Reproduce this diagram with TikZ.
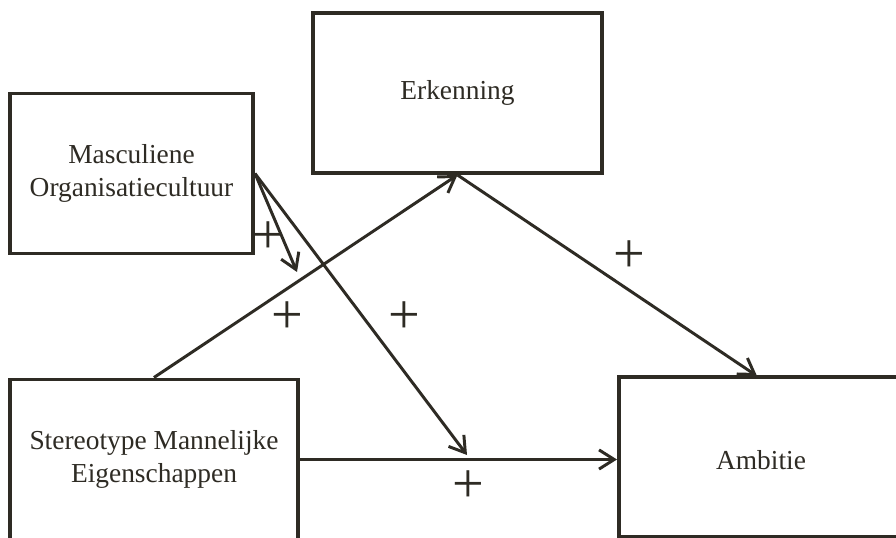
\documentclass[tikz,border=0pt]{standalone}
\usepackage{fontspec}
\setmainfont{Liberation Serif}
\usetikzlibrary{arrows.meta,positioning}
\definecolor{ink}{RGB}{46,43,36}
\tikzset{box/.style={draw=ink, line width=2.8pt, minimum width=7.2cm, minimum height=4cm,
    align=center, font=\fontsize{19.5}{23}\selectfont, text=ink},
  path/.style={draw=ink, line width=2.1pt, -{Straight Barb[length=3.8mm,width=4.8mm]}},
  plus/.style={text=ink, inner sep=0pt, font=\fontsize{40}{40}\selectfont}}

\begin{document}
\begin{tikzpicture}[x=0.025cm, y=-0.025cm]
\useasboundingbox (0,0) rectangle (896,538);
\clip (0,0) rectangle (896,538);
\fill[white] (0,0) rectangle (896,538);

% the four constructs
\node[box, minimum width=6.075cm] (masc) at (131.5,173.5) {Masculiene\\Organisatiecultuur};
\node[box] (erk) at (457.5,93) {Erkenning};
\node[box] (stereo) at (154,459.5) {Stereotype Mannelijke\\Eigenschappen};
\node[box, minimum width=10cm, anchor=west] (amb) at (617,457) {};
\node[font=\fontsize{19.5}{23}\selectfont, text=ink] (ambtext) at (761,460) {Ambitie};

% ends of the moderation arrows
\coordinate (modA) at (297,272);
\coordinate (modB) at (467,455);

\draw[path] (stereo.north) -- (erk.south);
\draw[path] (erk.south) -- (757,376);
\draw[path] (stereo.east) -- (stereo.east -| amb.west);
\draw[path] (masc.east) -- (modA);
\draw[path] (masc.east) -- (modB);

% signs
\node[plus] (p1) at (268,238) {+};
\node[plus] (p2) at (287,318) {+};
\node[plus] (p3) at (404,318) {+};
\node[plus] (p4) at (629,257) {+};
\node[plus] (p5) at (468,487) {+};

\end{tikzpicture}
\end{document}
